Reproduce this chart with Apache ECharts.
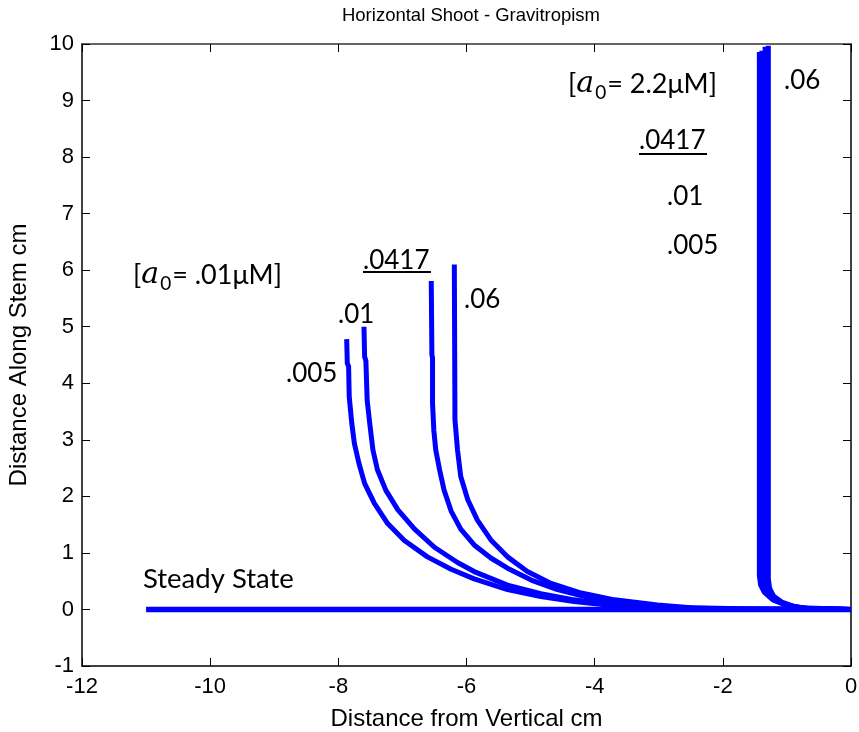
<!doctype html>
<html>
<head>
    <meta charset="utf-8">
    <title>Horizontal Shoot - Gravitropism</title>
    <style>
        html, body {
            margin: 0;
            padding: 0;
            background: #fff;
        }
        #chart {
            width: 859px;
            height: 732px;
        }
    </style>
</head>
<body>
<div id="chart"></div>
<script type="text/javascript" src="https://cdn.jsdelivr.net/npm/echarts@6/dist/echarts.min.js"></script>
<script type="text/javascript">
    // steady state line
    var steadyState = [[-11, 0], [0, 0]];

    // a0 = .01 uM curves
    var low005 = [[-7.87, 4.78], [-7.86, 4.35], [-7.84, 4.3], [-7.83, 3.76], [-7.79, 3.29], [-7.75, 2.94],
        [-7.68, 2.59], [-7.59, 2.23], [-7.44, 1.88], [-7.23, 1.52], [-6.97, 1.22], [-6.61, 0.93],
        [-6.24, 0.71], [-5.88, 0.54], [-5.36, 0.35], [-4.84, 0.23], [-4.32, 0.14], [-3.8, 0.08],
        [-3.0, 0.03], [-2.0, 0.01], [0, 0]];
    var low01 = [[-7.6, 5.0], [-7.59, 4.47], [-7.57, 4.4], [-7.55, 3.7], [-7.51, 3.29], [-7.46, 2.82],
        [-7.39, 2.47], [-7.26, 2.11], [-7.07, 1.76], [-6.81, 1.42], [-6.5, 1.1], [-6.14, 0.83],
        [-5.88, 0.67], [-5.36, 0.43], [-4.84, 0.28], [-4.32, 0.17], [-3.8, 0.09], [-3.0, 0.03],
        [-2.0, 0.01], [0, 0]];
    var low0417 = [[-6.55, 5.81], [-6.54, 4.5], [-6.53, 4.45], [-6.53, 3.65], [-6.51, 3.17], [-6.48, 2.82],
        [-6.42, 2.47], [-6.35, 2.11], [-6.24, 1.74], [-6.09, 1.42], [-5.88, 1.14], [-5.62, 0.91],
        [-5.36, 0.73], [-4.99, 0.52], [-4.58, 0.35], [-4.06, 0.2], [-3.54, 0.11], [-2.8, 0.04],
        [-2.0, 0.01], [0, 0]];
    var low06 = [[-6.19, 6.1], [-6.18, 3.35], [-6.14, 2.82], [-6.09, 2.35], [-5.98, 1.94], [-5.83, 1.58],
        [-5.62, 1.23], [-5.36, 0.93], [-5.05, 0.67], [-4.68, 0.46], [-4.21, 0.29], [-3.69, 0.17],
        [-3.02, 0.08], [-2.5, 0.03], [-1.5, 0.01], [0, 0]];

    // a0 = 2.2 uM curves
    var high005 = [[-1.43, 9.86], [-1.43, 0.6], [-1.41, 0.43], [-1.35, 0.3], [-1.22, 0.17], [-1.02, 0.08],
        [-0.8, 0.03], [0, 0]];
    var high01 = [[-1.39, 9.88], [-1.39, 0.58], [-1.37, 0.41], [-1.31, 0.28], [-1.18, 0.16], [-0.98, 0.07],
        [-0.76, 0.02], [0, 0]];
    var high0417 = [[-1.34, 9.95], [-1.34, 0.56], [-1.32, 0.39], [-1.26, 0.26], [-1.13, 0.14], [-0.93, 0.06],
        [-0.72, 0.02], [0, 0]];
    var high06 = [[-1.29, 9.97], [-1.29, 0.54], [-1.27, 0.37], [-1.21, 0.24], [-1.08, 0.13], [-0.88, 0.05],
        [-0.68, 0.02], [0, 0]];

    var blue = '#0000ff';
    var labelFont = 'Lato, "Open Sans", sans-serif';
    var axisFont = '"Liberation Sans", Arial, sans-serif';

    function curve(name, data, width) {
        return {
            name: name,
            type: 'line',
            data: data,
            showSymbol: false,
            symbol: 'none',
            animation: false,
            lineStyle: {color: blue, width: width || 5, cap: 'butt', join: 'round'}
        };
    }

    // plain annotation text
    function note(text, x, y, size) {
        return {
            type: 'text', x: x, y: y, z: 100,
            style: {text: text, font: (size || 26) + 'px ' + labelFont, fill: '#000', textVerticalAlign: 'middle'}
        };
    }

    function underline(x1, x2, y) {
        return {
            type: 'line', z: 100,
            shape: {x1: x1, y1: y, x2: x2, y2: y},
            style: {stroke: '#000', lineWidth: 2}
        };
    }

    // [a0= ...uM] with italic a and subscript 0
    function conc(value, x, y) {
        return {
            type: 'text', x: x, y: y, z: 100,
            style: {
                text: '{b|[}{a|a}{s|0}{b|= ' + value + 'μM]}',
                textVerticalAlign: 'middle',
                rich: {
                    b: {fontSize: 27, fontFamily: labelFont, fill: '#000', lineHeight: 32, verticalAlign: 'middle'},
                    a: {fontSize: 30, fontFamily: '"DejaVu Serif", serif', fontStyle: 'italic', fill: '#000', lineHeight: 32, verticalAlign: 'middle'},
                    s: {fontSize: 19, fontFamily: labelFont, fill: '#000', lineHeight: 32, verticalAlign: 'bottom', padding: [0, 1, -2, 1]}
                }
            }
        };
    }

    var chart = echarts.init(document.getElementById('chart'));

    var tickStyle = {show: true, inside: true, length: 8, lineStyle: {color: '#000', width: 1}};

    var option = {
        backgroundColor: '#fff',
        animation: false,
        title: {
            text: 'Horizontal Shoot - Gravitropism',
            left: 466, top: 1, textAlign: 'center',
            textStyle: {fontFamily: axisFont, fontSize: 18.5, fontWeight: 'normal', color: '#000'}
        },
        grid: {left: 82, right: 8, top: 44, bottom: 66, containLabel: false, outerBoundsMode: 'none'},
        xAxis: [{
            type: 'value', min: -12, max: 0, interval: 2, position: 'bottom',
            name: 'Distance from Vertical cm', nameLocation: 'middle', nameGap: 41,
            nameTextStyle: {fontFamily: axisFont, fontSize: 24, color: '#000'},
            axisLine: {show: true, onZero: false, lineStyle: {color: '#000', width: 1.5}},
            axisTick: tickStyle,
            axisLabel: {fontFamily: axisFont, fontSize: 22, color: '#000', margin: 10},
            splitLine: {show: false}
        }, {
            type: 'value', min: -12, max: 0, interval: 2, position: 'top',
            axisLine: {show: true, onZero: false, lineStyle: {color: '#333', width: 1.5}},
            axisTick: tickStyle,
            axisLabel: {show: false},
            splitLine: {show: false}
        }],
        yAxis: [{
            type: 'value', min: -1, max: 10, interval: 1, position: 'left',
            name: 'Distance Along Stem cm', nameLocation: 'middle', nameGap: 51,
            nameTextStyle: {fontFamily: axisFont, fontSize: 24, color: '#000'},
            axisLine: {show: true, onZero: false, lineStyle: {color: '#000', width: 1.5}},
            axisTick: tickStyle,
            axisLabel: {fontFamily: axisFont, fontSize: 22, color: '#000', margin: 8},
            splitLine: {show: false}
        }, {
            type: 'value', min: -1, max: 10, interval: 1, position: 'right',
            axisLine: {show: true, onZero: false, lineStyle: {color: '#000', width: 1.5}},
            axisTick: tickStyle,
            axisLabel: {show: false},
            splitLine: {show: false}
        }],
        series: [
            curve('Steady State', steadyState, 5.5),
            curve('.005 low', low005),
            curve('.01 low', low01),
            curve('.0417 low', low0417),
            curve('.06 low', low06),
            curve('.005 high', high005),
            curve('.01 high', high01),
            curve('.0417 high', high0417),
            curve('.06 high', high06)
        ],
        graphic: [
            conc('.01', 133, 275),
            note('.0417', 363, 261),
            underline(363, 431, 272),
            note('.01', 338, 315),
            note('.005', 286, 374),
            note('.06', 464, 300),
            note('Steady State', 143, 579, 27.5),
            conc('2.2', 568, 84),
            note('.0417', 639, 141),
            underline(639, 707, 154),
            note('.01', 667, 197),
            note('.005', 667, 246),
            note('.06', 784, 81)
        ]
    };

    chart.setOption(option);
</script>
</body>
</html>
